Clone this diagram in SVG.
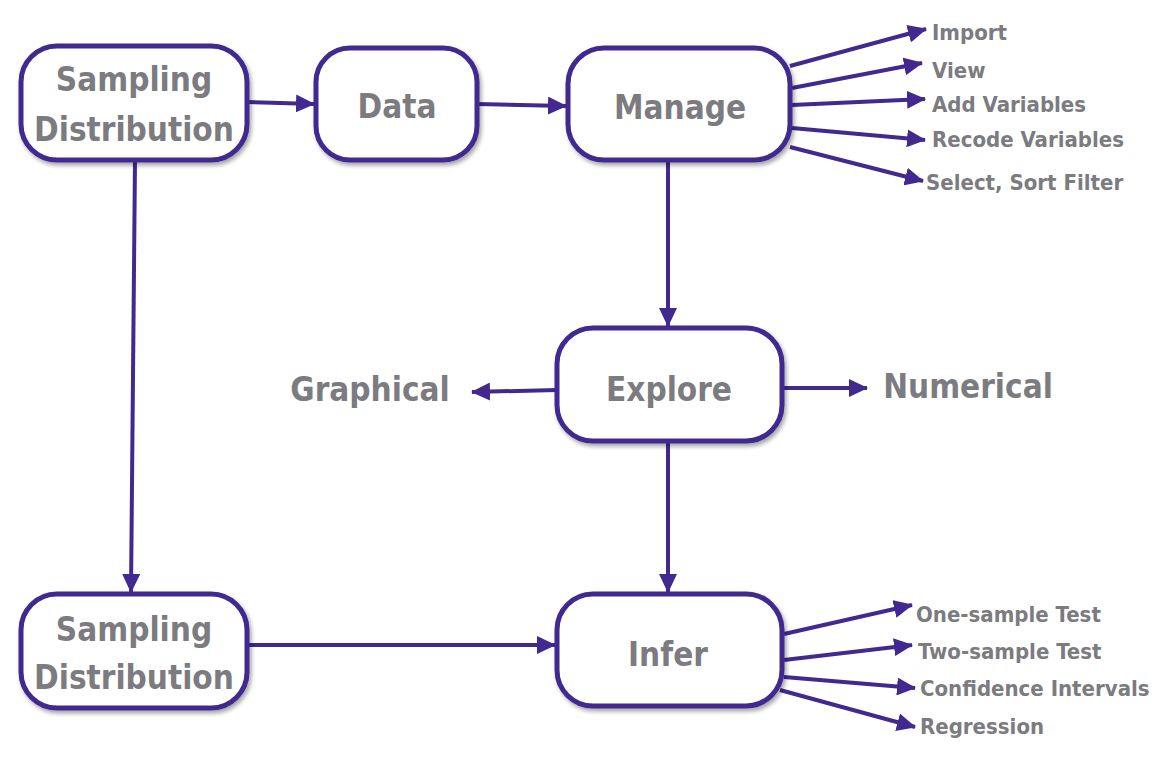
<svg xmlns="http://www.w3.org/2000/svg" width="1170" height="774" viewBox="0 0 1170 774">
<style>
.box{fill:#fff;stroke:#41298f;stroke-width:5;filter:url(#sh)}
.big{font-family:'DejaVu Sans Condensed','DejaVu Sans',sans-serif;font-weight:bold;font-size:33px;fill:#7b7b80;text-anchor:middle}
.sm{font-family:'DejaVu Sans Condensed','DejaVu Sans',sans-serif;font-weight:bold;font-size:22px;fill:#7b7b80}
.c{stroke:#41298f;stroke-width:4;fill:none;marker-end:url(#ah)}
</style>
<defs>
<filter id="sh" x="-10%" y="-10%" width="125%" height="125%">
<feDropShadow dx="2" dy="3" stdDeviation="2" flood-color="#000" flood-opacity="0.35"/>
</filter>
<marker id="ah" markerUnits="userSpaceOnUse" markerWidth="20" markerHeight="18" refX="18" refY="9" orient="auto">
<path d="M0,0 L19,9 L0,18 Z" fill="#41298f"/>
</marker>
</defs>
<g id="connectors">
<line class="c" x1="247" y1="102" x2="314" y2="104"/>
<line class="c" x1="477" y1="104" x2="566" y2="106"/>
<line class="c" x1="668" y1="160" x2="668" y2="326"/>
<line class="c" x1="557" y1="390" x2="472" y2="392"/>
<line class="c" x1="782" y1="388" x2="867" y2="388"/>
<line class="c" x1="668" y1="441" x2="668" y2="592"/>
<line class="c" x1="135" y1="160" x2="131" y2="592"/>
<line class="c" x1="247" y1="645" x2="555" y2="645"/>
<line class="c" x1="790" y1="66" x2="926" y2="29"/>
<line class="c" x1="792" y1="88" x2="922" y2="63"/>
<line class="c" x1="792" y1="105" x2="925" y2="99"/>
<line class="c" x1="792" y1="128" x2="925" y2="140"/>
<line class="c" x1="790" y1="147" x2="923" y2="181"/>
<line class="c" x1="784" y1="634" x2="912" y2="605"/>
<line class="c" x1="784" y1="660" x2="912" y2="645"/>
<line class="c" x1="784" y1="677" x2="915" y2="688"/>
<line class="c" x1="780" y1="690" x2="915" y2="727"/>
</g>
<g id="sd-top"><rect class="box" x="21" y="46" width="226" height="114" rx="36"/><text class="big" x="134" y="91">Sampling</text><text class="big" x="134" y="141">Distribution</text></g>
<g id="data"><rect class="box" x="316" y="48" width="161" height="112" rx="34"/><text class="big" x="397" y="118">Data</text></g>
<g id="manage"><rect class="box" x="568" y="48" width="222" height="112" rx="36"/><text class="big" x="680" y="119">Manage</text></g>
<g id="explore"><rect class="box" x="557" y="328" width="225" height="113" rx="36"/><text class="big" x="669" y="401">Explore</text></g>
<g id="sd-bottom"><rect class="box" x="21" y="594" width="226" height="114" rx="36"/><text class="big" x="134" y="641">Sampling</text><text class="big" x="134" y="689">Distribution</text></g>
<g id="infer"><rect class="box" x="557" y="594" width="225" height="112" rx="36"/><text class="big" x="668" y="666">Infer</text></g>
<g id="labels">
<text class="big" x="370" y="401">Graphical</text>
<text class="big" x="968" y="398">Numerical</text>
<text class="sm" x="932" y="40">Import</text>
<text class="sm" x="932" y="78">View</text>
<text class="sm" x="932" y="112">Add Variables</text>
<text class="sm" x="932" y="147">Recode Variables</text>
<text class="sm" x="926" y="190">Select, Sort Filter</text>
<text class="sm" x="916" y="622">One-sample Test</text>
<text class="sm" x="918" y="659">Two-sample Test</text>
<text class="sm" x="920" y="696">Confidence Intervals</text>
<text class="sm" x="920" y="734">Regression</text>
</g>
</svg>
